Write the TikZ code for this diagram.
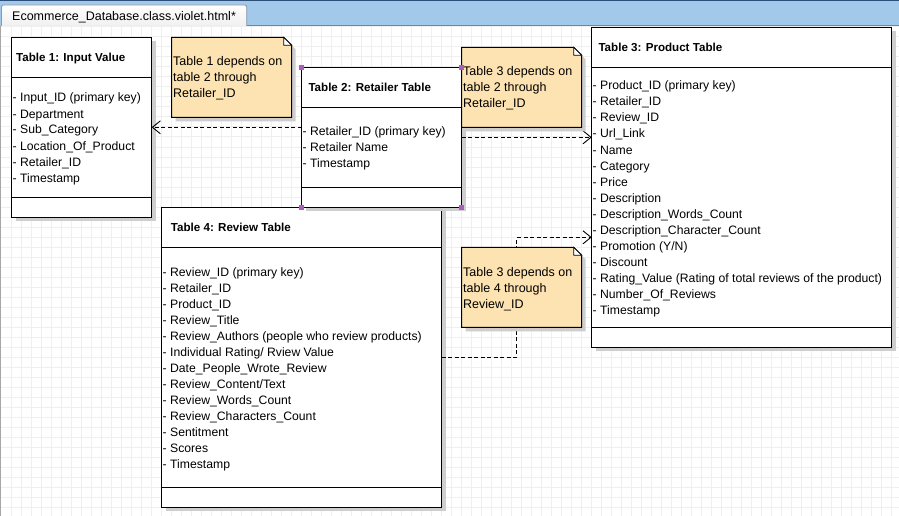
\documentclass[tikz,border=0pt]{standalone}
\usepackage{fontspec}
\setmainfont{Liberation Sans}
\usetikzlibrary{arrows.meta,calc}
\definecolor{notefill}{RGB}{253,227,177}
\definecolor{shadowc}{RGB}{206,206,206}
\definecolor{gridc}{RGB}{239,239,239}
\definecolor{handlec}{RGB}{168,96,184}
\definecolor{barblue}{RGB}{162,200,234}
\definecolor{topblue}{RGB}{45,78,120}
\definecolor{tabborder}{RGB}{137,152,170}
\definecolor{sepgray}{RGB}{130,130,130}
\tikzset{
  tbl/.style={draw=black, line width=1pt, fill=white, rectangle, anchor=north west, inner sep=0pt, outer sep=0pt},
  item/.style={anchor=base west, inner sep=0pt, font=\fontsize{12.2}{14}\selectfont},
  ttl/.style={anchor=base west, inner sep=0pt, font=\fontsize{11.6}{14}\selectfont\bfseries},
  notetext/.style={anchor=base west, inner sep=0pt, font=\fontsize{12.5}{14}\selectfont},
  dep/.style={line width=0.9pt, dash pattern=on 4pt off 2.5pt, -{Straight Barb[length=8pt,width=13pt,line width=0.9pt]}},
  handle/.style={fill=handlec, draw=none, minimum size=5pt, inner sep=0pt, rectangle},
  notebox/.style={rectangle, inner sep=0pt, outer sep=0pt, anchor=north west}
}
\newcommand\mytable[7]{%
  \fill[shadowc] (#2+4,#3+4) rectangle (#4+4,#5+4);
  \node[tbl, minimum width={#4-#2}, minimum height={#5-#3}] (#1) at (#2,#3) {};
  \draw[line width=1pt] (#1.west |- 0,#6) -- (#1.east |- 0,#6);
  \draw[line width=1pt] (#1.west |- 0,#7) -- (#1.east |- 0,#7);
}
\newcommand\mynote[5]{%
  \fill[shadowc] (#2+4,#3+4) -- (#4-4,#3+4) -- (#4+4,#3+12) -- (#4+4,#5+4) -- (#2+4,#5+4) -- cycle;
  \node[notebox, minimum width={#4-#2}, minimum height={#5-#3}] (#1) at (#2,#3) {};
  \filldraw[fill=notefill, line width=1pt] (#1.north west) -- ($(#1.north east)+(-8,0)$) -- ($(#1.north east)+(0,8)$) -- (#1.south east) -- (#1.south west) -- cycle;
  \filldraw[fill=white, line width=0.8pt] ($(#1.north east)+(-8,0)$) -- ($(#1.north east)+(-8,8)$) -- ($(#1.north east)+(0,8)$) -- cycle;
}
\begin{document}
\begin{tikzpicture}[x=1pt,y=-1pt]
\useasboundingbox (0,0) rectangle (899,516);
% window chrome
\fill[barblue] (0,0) rectangle (899,26);
\fill[topblue] (0,0) rectangle (899,1.5);
\fill[white] (0,26) rectangle (899,516);
\foreach \gx in {11,21,...,899} \draw[gridc, line width=1pt] (\gx,26) -- (\gx,516);
\foreach \gy in {27,37,...,516} \draw[gridc, line width=1pt] (0,\gy) -- (899,\gy);
\draw[sepgray, line width=1pt] (246.7,26) -- (899,26);
\draw[gray!70, line width=1pt] (0.5,26) -- (0.5,516);
\shade[top color=white, bottom color=gray!12] (1.5,26) -- (1.5,7) arc[start angle=180, end angle=270, radius=2] -- (244.7,5) arc[start angle=270,end angle=360,radius=2] -- (246.7,26) -- cycle;
\draw[tabborder, line width=0.8pt] (1.5,26) -- (1.5,7) arc[start angle=180, end angle=270, radius=2] -- (244.7,5) arc[start angle=270,end angle=360,radius=2] -- (246.7,26);
\node[anchor=base west, inner sep=0pt, font=\fontsize{12.5}{14}\selectfont] (tabtxt) at (12,20.2) {Ecommerce\_Database.class.violet.html*};

% Table 1
\mytable{t1}{11.7}{37.3}{151.7}{217.3}{77.3}{197.3}
\node[ttl] (t1title) at (16,{57.3+4.2}) {Table 1: Input Value};
\foreach \txt [count=\i] in {Input\_ID (primary key),Department,Sub\_Category,Location\_Of\_Product,Retailer\_ID,Timestamp}
  \node[item] (t1i\i) at (12.5,{97.7+4.3+16*(\i-1)}) {- \txt};

% Table 3
\mytable{t3}{591.7}{27.3}{891.7}{347.3}{67.3}{327.3}
\node[ttl] (t3title) at (598.3,{47.3+4.2}) {Table 3: Product Table};
\foreach \txt [count=\i] in {Product\_ID (primary key),Retailer\_ID,Review\_ID,Url\_Link,Name,Category,Price,Description,Description\_Words\_Count,Description\_Character\_Count,Promotion (Y/N),Discount,Rating\_Value (Rating of total reviews of the product),Number\_Of\_Reviews,Timestamp}
  \node[item] (t3i\i) at (592.5,{85.7+4.3+16*(\i-1)}) {- \txt};

% Table 4
\mytable{t4}{161.7}{207.3}{441.7}{507.3}{247.3}{487.3}
\node[ttl] (t4title) at (170.7,{227.3+4.2}) {Table 4: Review Table};
\foreach \txt [count=\i] in {Review\_ID (primary key),Retailer\_ID,Product\_ID,Review\_Title,Review\_Authors (people who review products),Individual Rating/ Rview Value,Date\_People\_Wrote\_Review,Review\_Content/Text,Review\_Words\_Count,Review\_Characters\_Count,Sentitment,Scores,Timestamp}
  \node[item] (t4i\i) at (162.5,{271.7+4.3+16*(\i-1)}) {- \txt};

% Table 2
\mytable{t2}{301.7}{67.3}{461.7}{207.3}{107.3}{187.3}
\node[ttl] (t2title) at (308.3,{87.3+4.2}) {Table 2: Retailer Table};
\foreach \txt [count=\i] in {Retailer\_ID (primary key),Retailer Name,Timestamp}
  \node[item] (t2i\i) at (302.5,{131+4.3+16*(\i-1)}) {- \txt};

% Connectors
\coordinate (a1) at (0,127.3);
\coordinate (a2) at (0,137.3);
\coordinate (a3s) at (0,357);
\coordinate (a3b) at (516.7,237.3);
\draw[dep] (t2.west |- a1) -- (t1.east |- a1);
\draw[dep] (t2.east |- a2) -- (t3.west |- a2);
\draw[dep] (t4.east |- a3s) -| (a3b) -- (t3.west |- a3b);

% Notes
\mynote{n1}{171.7}{37.3}{291.7}{117.3}
\node[notetext] (n1a) at (173,{61.7+4.3}) {Table 1 depends on};
\node[notetext] (n1b) at (173,{77.7+4.3}) {table 2 through};
\node[notetext] (n1c) at (173,{93.7+4.3}) {Retailer\_ID};

\mynote{n2}{461.7}{47.3}{581.7}{127.3}
\node[notetext] (n2a) at (463,{71.7+4.3}) {Table 3 depends on};
\node[notetext] (n2b) at (463,{87.7+4.3}) {table 2 through};
\node[notetext] (n2c) at (463,{103.7+4.3}) {Retailer\_ID};

\mynote{n3}{461.7}{247.3}{581.7}{327.3}
\node[notetext] (n3a) at (463,{271.7+4.3}) {Table 3 depends on};
\node[notetext] (n3b) at (463,{287.7+4.3}) {table 4 through};
\node[notetext] (n3c) at (463,{303.7+4.3}) {Review\_ID};

% selection handles on Table 2
\node[handle] (h1) at (t2.north west) {};
\node[handle] (h2) at (t2.north east) {};
\node[handle] (h3) at (t2.south west) {};
\node[handle] (h4) at (t2.south east) {};
\end{tikzpicture}
\end{document}
